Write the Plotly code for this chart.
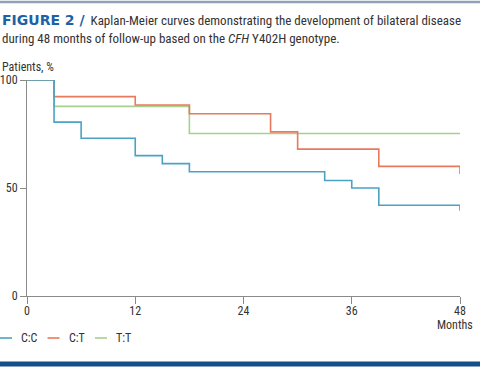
import plotly.graph_objects as go

# Data
cc_months = [0, 3, 6, 12, 15, 18, 33, 36, 39, 48]
cc_pct = [100, 80.5, 73, 65, 61.3, 57.5, 53.5, 50, 42, 39.5]
ct_months = [0, 3, 12, 18, 27, 30, 39, 48]
ct_pct = [100, 92.3, 88.4, 84.4, 76, 68, 60, 56.5]
tt_months = [0, 3, 18, 48]
tt_pct = [100, 87.8, 75.2, 75.2]
series_names = ["C:C", "C:T", "T:T"]
x_ticks = [0, 12, 24, 36, 48]
y_ticks = [0, 50, 100]

COND = "Roboto Condensed"
TXT = "#333333"
COL_CC = "#4ba3c4"
COL_CT = "#e8795c"
COL_TT = "#a8d08c"
colors = [COL_CC, COL_CT, COL_TT]

L, R, T, B = 27, 20, 80, 75
W, H = 480, 371
PW, PH = W - L - R, H - T - B

def px(x):
    return (x - L) / PW

def py(y):
    return (H - B - y) / PH

fig = go.Figure()
fig.add_trace(go.Scatter(x=tt_months, y=tt_pct, name=series_names[2], mode="lines", line_shape="hv",
                         line=dict(color=COL_TT, width=1.6), cliponaxis=False))
fig.add_trace(go.Scatter(x=ct_months, y=ct_pct, name=series_names[1], mode="lines", line_shape="hv",
                         line=dict(color=COL_CT, width=1.6), cliponaxis=False))
fig.add_trace(go.Scatter(x=cc_months, y=cc_pct, name=series_names[0], mode="lines", line_shape="hv",
                         line=dict(color=COL_CC, width=1.6), cliponaxis=False))

axis_common = dict(showgrid=False, zeroline=False, showline=True, linecolor="#8a8a8a", linewidth=1,
                   ticks="outside", tickcolor="#8a8a8a",
                   tickfont=dict(family=COND, size=12, color=TXT))
fig.update_xaxes(range=[0, 48], tickvals=x_ticks, ticklen=7, ticklabelstandoff=-3, **axis_common)
fig.update_yaxes(range=[0, 100], tickvals=y_ticks, ticklen=6, ticklabelstandoff=0, **axis_common)

annotations = [
    dict(xref="paper", yref="paper", x=px(0), y=py(20), xanchor="left", yanchor="middle",
         showarrow=False, align="left",
         text="<span style=\"font-family:'DejaVu Sans';font-size:14px;color:#1d62a6\"><b>FIGURE 2 /</b></span>"
              "&nbsp; Kaplan-Meier curves demonstrating the development of bilateral disease",
         font=dict(family=COND, size=13, color=TXT)),
    dict(xref="paper", yref="paper", x=px(0), y=py(39), xanchor="left", yanchor="middle",
         showarrow=False, align="left",
         text="during 48 months of follow-up based on the <i>CFH</i> Y402H genotype.",
         font=dict(family=COND, size=13, color=TXT)),
    dict(xref="paper", yref="paper", x=px(0), y=py(67), xanchor="left", yanchor="middle",
         showarrow=False, text="Patients, %", font=dict(family=COND, size=12, color=TXT)),
    dict(xref="paper", yref="paper", x=px(455), y=py(325), xanchor="center", yanchor="middle",
         showarrow=False, text="Months", font=dict(family=COND, size=12, color=TXT)),
]
shapes = [
    dict(type="line", xref="paper", yref="paper", x0=px(0), x1=px(480),
         y0=py(2), y1=py(2), line=dict(color="#8fa2b7", width=2.5)),
    dict(type="line", xref="paper", yref="paper", x0=px(0), x1=px(480),
         y0=py(364), y1=py(364), line=dict(color="#154f87", width=5)),
]

# Manual legend (compact, as in the reference)
leg_y = 338
for i, (name, col) in enumerate(zip(series_names, colors)):
    x0 = i * 47.5
    shapes.append(dict(type="line", xref="paper", yref="paper", x0=px(x0), x1=px(x0 + 12),
                       y0=py(leg_y), y1=py(leg_y), line=dict(color=col, width=1.6)))
    annotations.append(dict(xref="paper", yref="paper", x=px(x0 + 19), y=py(leg_y), xanchor="left",
                            yanchor="middle", showarrow=False, text=name,
                            font=dict(family=COND, size=12, color=TXT)))

fig.update_layout(
    width=W, height=H,
    margin=dict(l=L, r=R, t=T, b=B, autoexpand=False),
    paper_bgcolor="white", plot_bgcolor="white",
    showlegend=False,
    annotations=annotations,
    shapes=shapes,
)

fig.write_html("out.html", config={"displayModeBar": False},
               post_script="document.body.style.margin='0px';")
